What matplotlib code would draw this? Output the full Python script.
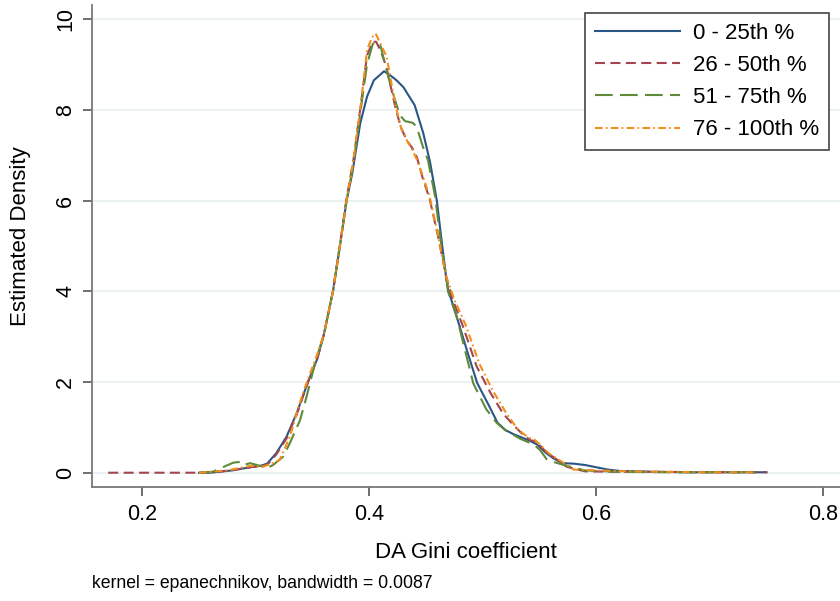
"""
Kernel density of DA Gini coefficient by quartile group
"""
import matplotlib
matplotlib.use("Agg")
import matplotlib.pyplot as plt

plt.rcParams['font.family'] = ['Liberation Sans', 'DejaVu Sans']

# group labels
groups = ['0 - 25th %', '26 - 50th %', '51 - 75th %', '76 - 100th %']

# 0 - 25th %
x_q1 = [0.25, 0.26, 0.279, 0.295, 0.304, 0.31, 0.318, 0.327, 0.336, 0.346, 0.354,
        0.36, 0.368, 0.374, 0.380, 0.385, 0.392, 0.398, 0.404, 0.409, 0.413, 0.418,
        0.424, 0.430, 0.440, 0.4476, 0.4535, 0.4595, 0.4645, 0.468, 0.4696, 0.477,
        0.486, 0.495, 0.506, 0.513, 0.520, 0.527, 0.533, 0.540, 0.548, 0.555, 0.562,
        0.570, 0.580, 0.590, 0.600, 0.610, 0.620, 0.635, 0.650, 0.68, 0.71, 0.75]
y_q1 = [0.0, 0.0, 0.05, 0.12, 0.15, 0.2, 0.43, 0.79, 1.31, 2.0, 2.5,
        3.05, 4.0, 4.98, 6.0, 6.6, 7.7, 8.29, 8.65, 8.76, 8.85, 8.77,
        8.65, 8.5, 8.1, 7.48, 6.85, 6.0, 4.95, 4.25, 4.02, 3.44,
        2.70, 1.98, 1.45, 1.1, 0.94, 0.85, 0.79, 0.72, 0.62, 0.45, 0.32,
        0.21, 0.2, 0.17, 0.12, 0.07, 0.04, 0.03, 0.02, 0.01, 0.01, 0.01]

# 26 - 50th %
x_q2 = [0.17, 0.20, 0.23, 0.25, 0.27, 0.285, 0.295, 0.304, 0.31, 0.318, 0.327,
        0.336, 0.346, 0.354, 0.36, 0.368, 0.374, 0.380, 0.386, 0.393, 0.398, 0.403,
        0.406, 0.410, 0.415, 0.419, 0.4235, 0.428, 0.433, 0.438, 0.442, 0.447,
        0.453, 0.46, 0.4655, 0.4682, 0.4737, 0.4826, 0.4946, 0.507, 0.518, 0.527,
        0.535, 0.5416, 0.5475, 0.5504, 0.556, 0.5619, 0.574, 0.59, 0.62, 0.65,
        0.70, 0.75]
y_q2 = [0.0, 0.0, 0.0, 0.0, 0.03, 0.08, 0.12, 0.15, 0.17, 0.40, 0.75,
        1.28, 2.0, 2.5, 3.05, 4.0, 5.0, 6.05, 6.89, 8.2, 9.2, 9.5,
        9.5, 9.3, 8.95, 8.5, 8.0, 7.6, 7.33, 7.15, 6.95, 6.5,
        6.05, 5.28, 4.6, 4.25, 3.81, 3.22, 2.34, 1.75, 1.3, 1.05,
        0.85, 0.72, 0.68, 0.6, 0.45, 0.35, 0.13, 0.03, 0.02, 0.02,
        0.01, 0.01]

# 51 - 75th %
x_q3 = [0.25, 0.262, 0.269, 0.28, 0.286, 0.289, 0.295, 0.304, 0.3096, 0.3152, 0.324,
        0.330, 0.339, 0.3448, 0.352, 0.36, 0.368, 0.374, 0.380, 0.386, 0.393, 0.398,
        0.403, 0.4065, 0.410, 0.414, 0.4182, 0.4226, 0.427, 0.4315, 0.4385, 0.4418,
        0.4473, 0.4517, 0.4579, 0.4635, 0.4682, 0.4693, 0.477, 0.4916, 0.503, 0.5122,
        0.5196, 0.5328, 0.545, 0.5504, 0.5562, 0.5619, 0.5741, 0.59, 0.60, 0.62,
        0.66, 0.70, 0.74]
y_q3 = [0.0, 0.02, 0.1, 0.22, 0.24, 0.17, 0.21, 0.15, 0.10, 0.17, 0.35,
        0.65, 1.16, 1.68, 2.4, 3.05, 4.0, 4.98, 6.0, 6.8, 8.1, 9.0,
        9.45, 9.5, 9.4, 9.0, 8.59, 8.22, 7.88, 7.75, 7.71, 7.62,
        7.18, 6.89, 6.1, 5.0, 4.25, 4.0, 3.44, 1.97, 1.4, 1.1,
        0.94, 0.75, 0.62, 0.5, 0.3, 0.24, 0.15, 0.05, 0.04, 0.02,
        0.01, 0.01, 0.01]

# 76 - 100th %
x_q4 = [0.25, 0.26, 0.275, 0.295, 0.306, 0.315, 0.321, 0.330, 0.336, 0.3416, 0.348,
        0.354, 0.36, 0.368, 0.374, 0.380, 0.386, 0.393, 0.398, 0.4025, 0.4056, 0.409,
        0.4153, 0.419, 0.4235, 0.428, 0.433, 0.438, 0.442, 0.447, 0.453, 0.46,
        0.4655, 0.4682, 0.475, 0.485, 0.497, 0.509, 0.521, 0.531, 0.540, 0.546,
        0.552, 0.558, 0.566, 0.574, 0.58, 0.60, 0.63, 0.66, 0.70, 0.74]
y_q4 = [0.0, 0.02, 0.05, 0.15, 0.13, 0.21, 0.28, 0.79, 1.31, 1.76, 2.2,
        2.6, 3.05, 4.0, 4.98, 6.0, 6.89, 8.21, 9.32, 9.6, 9.68, 9.5,
        9.17, 8.65, 8.06, 7.6, 7.33, 7.11, 6.9, 6.55, 6.1, 5.3,
        4.6, 4.3, 3.81, 3.25, 2.4, 1.8, 1.3, 0.95, 0.78, 0.72,
        0.58, 0.43, 0.3, 0.17, 0.07, 0.05, 0.03, 0.02, 0.01, 0.01]

x_ticks = [0.2, 0.4, 0.6, 0.8]
y_ticks = [0, 2, 4, 6, 8, 10]

colors = ['#2a5687', '#a34550', '#5e8a3a', '#f28e1c']
styles = ['-', (0, (4.8, 2.6)), (0, (8.5, 3.5)), (0, (3.6, 1.6, 0.8, 1.6))]

fig = plt.figure(figsize=(8.4, 6.01), dpi=100)
ax = fig.add_axes([92 / 840, 1 - 487 / 601, 1 - 92 / 840, (487 - 5) / 601])

series = [(x_q1, y_q1), (x_q2, y_q2), (x_q3, y_q3), (x_q4, y_q4)]
for (xs, ys), lab, col, ls in zip(series, groups, colors, styles):
    ax.plot(xs, ys, color=col, linestyle=ls, linewidth=1.5, label=lab)

ax.set_xlim(0.1557, 0.8147)
ax.set_ylim(-0.315, 10.31)
ax.set_xticks(x_ticks)
ax.set_xticklabels([f'{t:.1f}' for t in x_ticks])
ax.set_yticks(y_ticks)
ax.set_yticklabels([str(t) for t in y_ticks], rotation=90, va='center')

# stata-like look
ax.grid(True, axis='y', color='#e8eff0', linewidth=1.2)
ax.set_axisbelow(True)
for s in ['top', 'right']:
    ax.spines[s].set_visible(False)
for s in ['left', 'bottom']:
    ax.spines[s].set_color('#777777')
    ax.spines[s].set_linewidth(1.3)
ax.tick_params(length=6.5, width=1.2, color='#555555', labelsize=15.5)
ax.tick_params(axis='x', pad=6)
ax.tick_params(axis='y', pad=5)

ax.set_xlabel('DA Gini coefficient', fontsize=16, labelpad=12)
ax.set_ylabel('Estimated Density', fontsize=16)
ax.yaxis.set_label_coords(-61 / 748, 0.52)

fig.text(92 / 840, 1 - 583 / 601, 'kernel = epanechnikov, bandwidth = 0.0087',
         fontsize=12.7, ha='left', va='center')

leg = ax.legend(loc='upper right', bbox_to_anchor=(829 / 840, 1 - 13 / 601),
                bbox_transform=fig.transFigure, fancybox=False, fontsize=16,
                handlelength=3.8, handletextpad=0.6, labelspacing=0.5,
                borderpad=0.45, borderaxespad=0, framealpha=1)
leg.get_frame().set_edgecolor('#444444')
leg.get_frame().set_linewidth(1.2)

plt.savefig('out.png', dpi=100)
plt.close()
